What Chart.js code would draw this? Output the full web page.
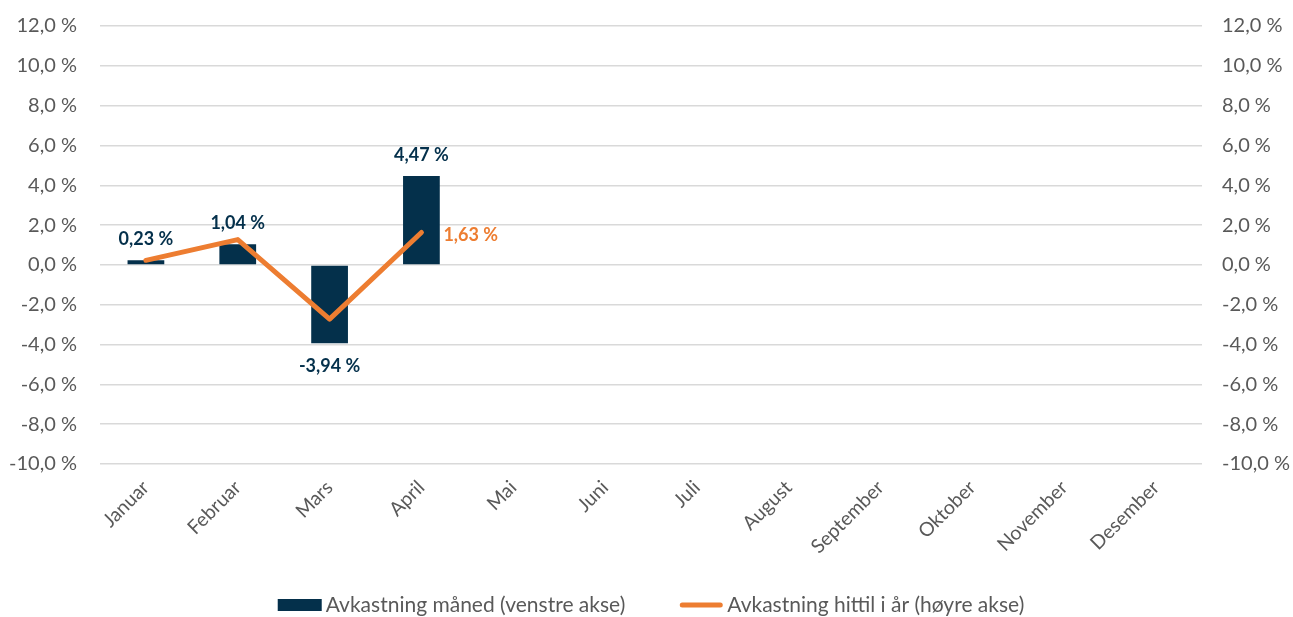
<!DOCTYPE html>
<html>
<head>
<meta charset="utf-8">
<script src="https://cdn.jsdelivr.net/npm/chart.js@4.4.1/dist/chart.umd.min.js"></script>
<style>
  html, body { margin: 0; padding: 0; background: #fff; }
  #wrap { width: 1293px; height: 617px; }
</style>
</head>
<body>
<div id="wrap"><canvas id="chart" width="1293" height="617"></canvas></div>
<script>
const months = ['Januar', 'Februar', 'Mars', 'April', 'Mai', 'Juni', 'Juli', 'August', 'September', 'Oktober', 'November', 'Desember'];
const monthlyReturn = [0.23, 1.04, -3.94, 4.47, null, null, null, null, null, null, null, null];
const ytdReturn = [0.23, 1.27, -2.72, 1.63, null, null, null, null, null, null, null, null];
const axisMin = -10;
const axisMax = 12;
const axisStep = 2;

const navy = '#04304B';
const orange = '#ED7D31';
const tickGrey = '#595959';
const fontFamily = 'Lato, "Open Sans", sans-serif';

const pct = (v, d) => v.toFixed(d).replace('.', ',') + ' %';

// value labels: every bar, and only the latest point of the YTD line
const valueLabels = {
	id: 'valueLabels',
	afterDatasetsDraw(chart) {
		const ctx = chart.ctx;
		ctx.save();
		ctx.font = 'bold 18px ' + fontFamily;
		ctx.textBaseline = 'middle';

		const bars = chart.getDatasetMeta(0).data;
		ctx.fillStyle = navy;
		ctx.textAlign = 'center';
		monthlyReturn.forEach((v, i) => {
			if (v === null) return;
			const el = bars[i];
			const y = v >= 0 ? el.y - 21 : el.y + 23;
			ctx.fillText(pct(v, 2), el.x, y);
		});

		const pts = chart.getDatasetMeta(1).data;
		let last = -1;
		ytdReturn.forEach((v, i) => { if (v !== null) last = i; });
		if (last >= 0) {
			ctx.fillStyle = orange;
			ctx.textAlign = 'left';
			ctx.fillText(pct(ytdReturn[last], 2), pts[last].x + 22, pts[last].y + 3);
		}
		ctx.restore();
	}
};

// legend row under the axis: wide swatches, 54px between entries
const bottomLegend = {
	id: 'bottomLegend',
	afterDraw(chart) {
		const ctx = chart.ctx;
		const y = 605;
		const swatchW = 44;
		const textGap = 4;
		const itemGap = 54;
		ctx.save();
		ctx.font = '21px ' + fontFamily;
		ctx.textBaseline = 'middle';
		ctx.textAlign = 'left';
		const items = chart.data.datasets.map(ds => ({
			ds,
			w: swatchW + textGap + ctx.measureText(ds.label).width
		}));
		const total = items.reduce((s, it) => s + it.w, 0) + itemGap * (items.length - 1);
		let x = (chart.chartArea.left + chart.chartArea.right) / 2 - total / 2;
		items.forEach(({ ds, w }) => {
			if (ds.type === 'line') {
				ctx.strokeStyle = ds.borderColor;
				ctx.lineWidth = 5;
				ctx.lineCap = 'round';
				ctx.beginPath();
				ctx.moveTo(x + 3, y);
				ctx.lineTo(x + swatchW - 3, y);
				ctx.stroke();
			} else {
				ctx.fillStyle = ds.backgroundColor;
				ctx.fillRect(x, y - 6, swatchW, 12);
			}
			ctx.fillStyle = tickGrey;
			ctx.fillText(ds.label, x + swatchW + textGap, y);
			x += w + itemGap;
		});
		ctx.restore();
	}
};

const noEdgePadding = scale => {
	scale.paddingTop = 0;
	scale.paddingBottom = 0;
};

const ctx = document.getElementById('chart').getContext('2d');
new Chart(ctx, {
	type: 'bar',
	data: {
		labels: months,
		datasets: [
			{
				type: 'bar',
				label: 'Avkastning måned (venstre akse)',
				data: monthlyReturn,
				backgroundColor: navy,
				yAxisID: 'y',
				barPercentage: 0.8,
				categoryPercentage: 0.5,
				order: 2,
			},
			{
				type: 'line',
				label: 'Avkastning hittil i år (høyre akse)',
				data: ytdReturn,
				borderColor: orange,
				backgroundColor: orange,
				borderWidth: 5,
				pointRadius: 0,
				borderJoinStyle: 'round',
				borderCapStyle: 'round',
				spanGaps: false,
				tension: 0,
				yAxisID: 'y2',
				order: 1,
			},
		]
	},
	plugins: [valueLabels, bottomLegend],
	options: {
		responsive: false,
		animation: false,
		events: [],
		layout: { padding: { top: 26, bottom: 53, left: 0, right: 0 } },
		plugins: {
			tooltip: { enabled: false },
			legend: { display: false }
		},
		scales: {
			x: {
				grid: { display: false, drawTicks: false },
				border: { display: false },
				ticks: {
					color: tickGrey,
					font: { family: fontFamily, size: 19.5 },
					minRotation: 45,
					maxRotation: 45,
					autoSkip: false,
					padding: 12,
				},
				afterFit(scale) {
					scale.height = 100;
					scale.paddingLeft = 0;
					scale.paddingRight = 0;
				}
			},
			y: {
				position: 'left',
				min: axisMin,
				max: axisMax,
				grid: { color: '#D9D9D9', lineWidth: 1.5, drawTicks: false },
				border: { display: false },
				ticks: {
					stepSize: axisStep,
					color: tickGrey,
					font: { family: fontFamily, size: 20 },
					padding: 23,
					callback: v => pct(v, 1),
				},
				afterFit(scale) {
					scale.width = 100;
					noEdgePadding(scale);
				}
			},
			y2: {
				position: 'right',
				min: axisMin,
				max: axisMax,
				grid: { display: false, drawTicks: false },
				border: { display: false },
				ticks: {
					stepSize: axisStep,
					color: tickGrey,
					font: { family: fontFamily, size: 20 },
					padding: 20,
					callback: v => pct(v, 1),
				},
				afterFit(scale) {
					scale.width = 91;
					noEdgePadding(scale);
				}
			}
		}
	}
});
</script>
</body>
</html>
